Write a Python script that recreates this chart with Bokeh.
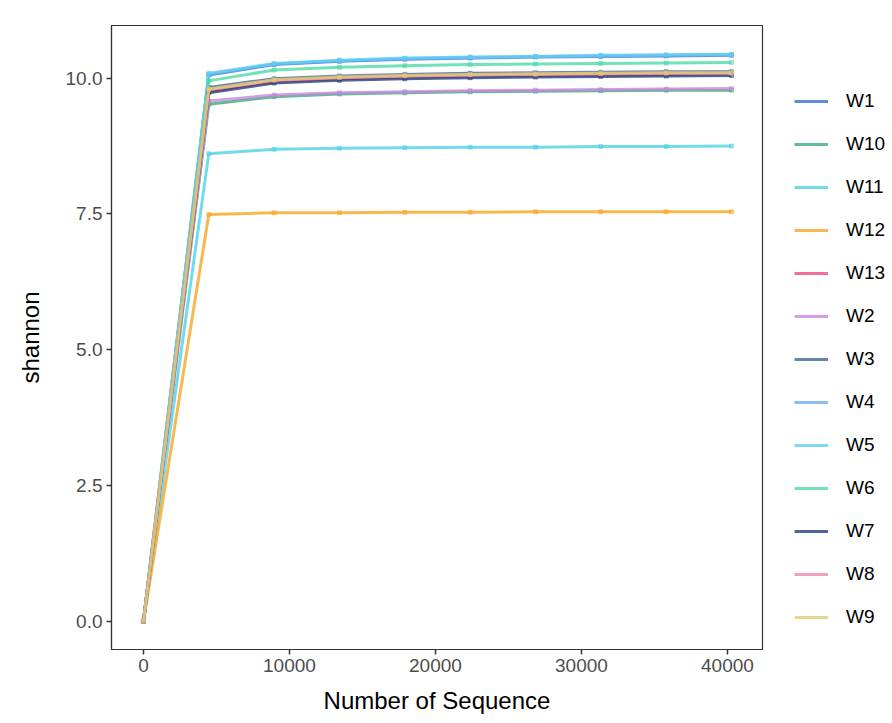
from bokeh.plotting import figure
from bokeh.models import Legend, LegendItem, FixedTicker, NumeralTickFormatter, Range1d
from bokeh.embed import file_html
from bokeh.resources import INLINE

seq = [0, 4475, 8950, 13425, 17900, 22375, 26850, 31325, 35800, 40275]

names = ["W1", "W10", "W11", "W12", "W13", "W2", "W3", "W4", "W5", "W6", "W7", "W8", "W9"]

W1 = [0, 10.06, 10.25, 10.31, 10.35, 10.37, 10.39, 10.40, 10.41, 10.42]
W10 = [0, 9.52, 9.66, 9.71, 9.73, 9.75, 9.76, 9.77, 9.78, 9.78]
W11 = [0, 8.61, 8.69, 8.71, 8.72, 8.73, 8.73, 8.74, 8.74, 8.75]
W12 = [0, 7.49, 7.52, 7.52, 7.53, 7.53, 7.54, 7.54, 7.54, 7.54]
W13 = [0, 9.76, 9.94, 9.99, 10.02, 10.04, 10.05, 10.06, 10.07, 10.08]
W2 = [0, 9.58, 9.69, 9.73, 9.75, 9.77, 9.78, 9.79, 9.80, 9.81]
W3 = [0, 9.83, 9.99, 10.04, 10.07, 10.09, 10.10, 10.11, 10.12, 10.12]
W4 = [0, 10.07, 10.26, 10.32, 10.36, 10.38, 10.40, 10.41, 10.42, 10.43]
W5 = [0, 10.09, 10.27, 10.33, 10.37, 10.39, 10.40, 10.42, 10.43, 10.44]
W6 = [0, 9.95, 10.15, 10.20, 10.23, 10.25, 10.26, 10.27, 10.28, 10.29]
W7 = [0, 9.73, 9.91, 9.96, 9.99, 10.01, 10.02, 10.03, 10.04, 10.05]
W8 = [0, 9.79, 9.96, 10.01, 10.04, 10.06, 10.07, 10.08, 10.09, 10.09]
W9 = [0, 9.80, 9.97, 10.02, 10.05, 10.07, 10.08, 10.09, 10.10, 10.10]

series = [W1, W10, W11, W12, W13, W2, W3, W4, W5, W6, W7, W8, W9]

colors = ["#3a6fdc", "#3aaa78", "#4dd2e6", "#f5a623", "#ef4a7c", "#c987e0", "#3f6699",
          "#6ab0ec", "#5fcff2", "#4ddba8", "#233e80", "#f48aaa", "#e0cd74"]

x_ticks = [0, 10000, 20000, 30000, 40000]
y_ticks = [0, 2.5, 5.0, 7.5, 10.0]

p = figure(output_backend="svg", toolbar_location=None,
           frame_width=651, frame_height=624,
           min_border_left=111, min_border_top=25, min_border_bottom=70, min_border_right=10,
           x_range=Range1d(-2190, 42400), y_range=Range1d(-0.52, 10.97))

p.background_fill_color = "white"
p.border_fill_color = "white"
p.outline_line_color = "#333333"
p.outline_line_width = 1.2
p.grid.visible = False

items = []
for name, ys, c in zip(names, series, colors):
    r = p.line(seq, ys, line_color=c, line_width=3, line_alpha=0.8)
    p.scatter(seq, ys, size=4, marker="square", fill_color=c, line_color=c, alpha=0.5)
    items.append(LegendItem(label=name, renderers=[r]))

legend = Legend(items=items, location=(32, 21), orientation="vertical",
                glyph_width=34, glyph_height=20, label_height=20, spacing=21,
                label_standoff=18, padding=0, margin=32,
                border_line_color=None, background_fill_alpha=0,
                label_text_font="Liberation Sans", label_text_font_size="19px",
                label_text_color="black")
p.add_layout(legend, "right")

p.xaxis.ticker = FixedTicker(ticks=x_ticks)
p.yaxis.ticker = FixedTicker(ticks=y_ticks)
p.yaxis.formatter = NumeralTickFormatter(format="0.0")
p.xaxis.formatter = NumeralTickFormatter(format="0")

for ax in (p.xaxis[0], p.yaxis[0]):
    ax.axis_line_color = "#333333"
    ax.axis_line_width = 1.2
    ax.major_tick_line_color = "#333333"
    ax.major_tick_line_width = 1.5
    ax.major_tick_out = 5
    ax.major_tick_in = 0
    ax.minor_tick_line_color = None
    ax.major_label_text_font = "Liberation Sans"
    ax.major_label_text_font_size = "19px"
    ax.major_label_text_color = "#4d4d4d"
    ax.major_label_standoff = 4
    ax.axis_label_text_font = "Liberation Sans"
    ax.axis_label_text_font_size = "24px"
    ax.axis_label_text_font_style = "normal"
    ax.axis_label_text_color = "black"
    ax.axis_label_standoff = 12

p.yaxis.axis_label_standoff = 19
p.xaxis.axis_label = "Number of Sequence"
p.yaxis.axis_label = "shannon"

open("out.html", "w").write(file_html(p, INLINE))
